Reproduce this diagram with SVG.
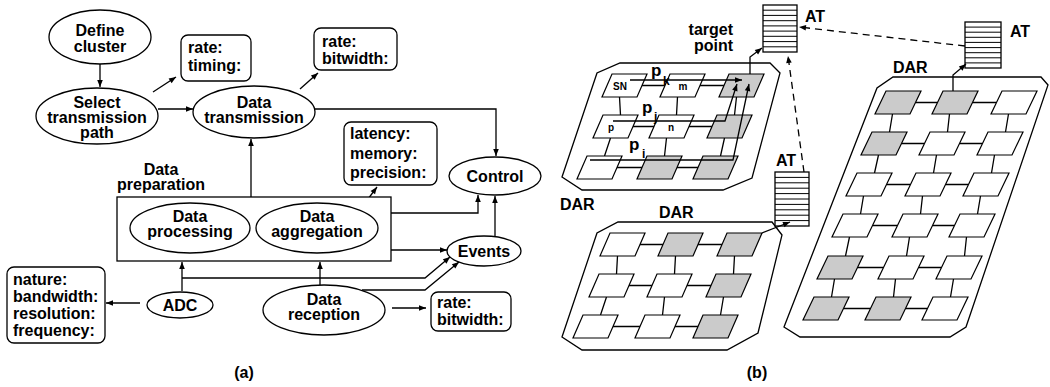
<svg xmlns="http://www.w3.org/2000/svg" width="1050" height="387" viewBox="0 0 1050 387">
<defs>
<style>
.t{font-family:"Liberation Sans",Arial,Helvetica,sans-serif;font-weight:bold;font-size:16px;fill:#000}
.m{text-anchor:middle}
.s{font-size:10px}
.ln{fill:none;stroke:#000;stroke-width:1.3}
.dl{fill:none;stroke:#000;stroke-width:1.3;stroke-dasharray:7,5}
.nd{fill:#fff;stroke:#000;stroke-width:1.3}
.cell{fill:#fff;stroke:#000;stroke-width:1.2}
.g{fill:#cbcbcb}
.st{stroke:#000;stroke-width:1}
</style>
<marker id="ah" viewBox="0 0 10 10" refX="10" refY="5" markerWidth="10" markerHeight="7" markerUnits="userSpaceOnUse" orient="auto"><path d="M0,1 L10,5 L0,9 z" fill="#000"/></marker>
</defs>
<rect width="1050" height="387" fill="#fff"/>

<!-- ===== (a) ===== -->
<g id="connectors-a" class="ln" marker-end="url(#ah)">
<path d="M100,64 L100,87"/>
<path d="M153,92 L176,77"/>
<path d="M158,109 L193,109"/>
<path d="M300,89 L318,73"/>
<path d="M315,109 L496,109 L496,156"/>
<path d="M251,197 L251,139"/>
<path d="M391,213 L478,213 L478,195"/>
<path d="M495,237 L495,196"/>
<path d="M391,250 L447,250"/>
<path d="M362,207 L377,187"/>
<path d="M182,291 L182,262"/>
<path d="M182,278 L425,278 L450,257"/>
<path d="M320,285 L320,262"/>
<path d="M362,290 L425,290 L459,262"/>
<path d="M392,308 L426,308"/>
<path d="M140,303 L106,303"/>
</g>

<g id="define-cluster"><ellipse class="nd" cx="100" cy="37" rx="51" ry="27"/><text class="t m" x="100" y="36">Define</text><text class="t m" x="100" y="52">cluster</text></g>
<g id="select-path"><ellipse class="nd" cx="97" cy="116" rx="61" ry="28"/><text class="t m" x="97" y="108">Select</text><text class="t m" x="97" y="123">transmission</text><text class="t m" x="97" y="138">path</text></g>
<g id="timing-box"><rect class="nd" x="181" y="35" width="70" height="46" rx="7"/><text class="t" x="188" y="53">rate:</text><text class="t" x="188" y="71">timing:</text></g>
<g id="data-transmission"><ellipse class="nd" cx="254" cy="112" rx="61" ry="26"/><text class="t m" x="254" y="108">Data</text><text class="t m" x="254" y="123">transmission</text></g>
<g id="bitwidth-top"><rect class="nd" x="314" y="28" width="83" height="42" rx="7"/><text class="t" x="322" y="47">rate:</text><text class="t" x="322" y="64">bitwidth:</text></g>
<g id="latency-box"><rect class="nd" x="344" y="122" width="93" height="63" rx="7"/><text class="t" x="350" y="139">latency:</text><text class="t" x="350" y="159">memory:</text><text class="t" x="350" y="178">precision:</text></g>
<g id="control"><ellipse class="nd" cx="495" cy="176" rx="46" ry="19"/><text class="t m" x="495" y="182">Control</text></g>
<g id="data-preparation"><rect class="nd" x="117" y="197" width="274" height="64"/><text class="t m" x="161" y="175">Data</text><text class="t m" x="161" y="190">preparation</text>
<g id="data-processing"><ellipse class="nd" cx="190" cy="228" rx="60" ry="25"/><text class="t m" x="190" y="222">Data</text><text class="t m" x="190" y="237">processing</text></g>
<g id="data-aggregation"><ellipse class="nd" cx="317" cy="228" rx="61" ry="25"/><text class="t m" x="317" y="222">Data</text><text class="t m" x="317" y="237">aggregation</text></g>
</g>
<g id="events"><ellipse class="nd" cx="484" cy="251" rx="37" ry="15"/><text class="t m" x="484" y="257">Events</text></g>
<g id="nature-box"><rect class="nd" x="7" y="267" width="98" height="76" rx="7"/><text class="t" x="13" y="285">nature:</text><text class="t" x="13" y="302">bandwidth:</text><text class="t" x="13" y="319">resolution:</text><text class="t" x="13" y="336">frequency:</text></g>
<g id="adc"><ellipse class="nd" cx="180" cy="305" rx="33" ry="13"/><text class="t m" x="180" y="311">ADC</text></g>
<g id="data-reception"><ellipse class="nd" cx="324" cy="310" rx="61" ry="25"/><text class="t m" x="324" y="305">Data</text><text class="t m" x="324" y="320">reception</text></g>
<g id="bitwidth-bottom"><rect class="nd" x="431" y="292" width="80" height="39" rx="7"/><text class="t" x="437" y="308">rate:</text><text class="t" x="437" y="325">bitwidth:</text></g>
<text class="t m" x="244" y="378">(a)</text>

<!-- ===== (b) ===== -->
<g id="dar-top">
<polygon class="nd" points="562,177 597,73 620,63 770,63 780,73 752,178 723,190 582,190"/>
<g class="ln">
<path d="M642,85.5 L665,85.5 M700,85.5 L724,85.5 M633,126.5 L654,126.5 M689,126.5 L712,126.5 M617,167.5 L642,167.5 M677,167.5 L698,167.5"/>
<path d="M619.5,97 L620.5,115 M610.5,138 L604.5,156 M677.5,97 L676.5,115 M666.5,138 L664.5,156 M736.5,97 L734.5,115 M724.5,138 L720.5,156"/>
</g>
<polygon class="cell" points="612,74 647,74 637,97 602,97"/>
<polygon class="cell" points="670,74 705,74 695,97 660,97"/>
<polygon class="cell g" points="729,74 764,74 754,97 719,97"/>
<polygon class="cell" points="603,115 638,115 628,138 593,138"/>
<polygon class="cell" points="659,115 694,115 684,138 649,138"/>
<polygon class="cell g" points="717,115 752,115 742,138 707,138"/>
<polygon class="cell" points="587,156 622,156 612,179 577,179"/>
<polygon class="cell g" points="647,156 682,156 672,179 637,179"/>
<polygon class="cell g" points="703,156 738,156 728,179 693,179"/>
<text class="t m s" x="620" y="90">SN</text>
<text class="t m s" x="683" y="90">m</text>
<text class="t m s" x="611" y="131">p</text>
<text class="t m s" x="671" y="131">n</text>
</g>
<g id="paths" class="ln" marker-end="url(#ah)">
<path d="M630,80 L742,80"/>
<path d="M613,121 L725,121 L737,84"/>
<path d="M590,160 L733,160 L749,84"/>
<path d="M750,74 L750,57 L762,48"/>
</g>
<g id="path-labels">
<text class="t" x="651" y="76" style="font-size:17px">p</text><text class="t" x="663" y="85" style="font-size:12px">k</text>
<text class="t" x="642" y="113" style="font-size:17px">p</text><text class="t" x="654" y="121" style="font-size:12px">j</text>
<text class="t" x="629" y="150" style="font-size:17px">p</text><text class="t" x="642" y="158" style="font-size:12px">i</text>
</g>
<text class="t" x="733" y="35" text-anchor="end">target</text>
<text class="t" x="733" y="51" text-anchor="end">point</text>
<text class="t" x="560" y="210">DAR</text>

<g id="at-top">
<rect class="nd" x="763" y="5" width="34" height="47"/>
<path class="st" d="M763,10.2H797M763,15.4H797M763,20.7H797M763,25.9H797M763,31.1H797M763,36.3H797M763,41.6H797M763,46.8H797"/>
<text class="t" x="805" y="22">AT</text>
</g>

<g id="dar-middle">
<polygon class="nd" points="562,337 597,233 618,222 772,222 782,235 758,333 727,350 582,350"/>
<g class="ln">
<path d="M640,244.5 L663,244.5 M698,244.5 L722,244.5 M629,285.5 L652,285.5 M687,285.5 L711,285.5 M613,326.5 L640,326.5 M675,326.5 L698,326.5"/>
<path d="M617.5,256 L616.5,274 M606.5,297 L600.5,315 M675.5,256 L674.5,274 M664.5,297 L662.5,315 M734.5,256 L733.5,274 M723.5,297 L720.5,315"/>
</g>
<polygon class="cell" points="610,233 645,233 635,256 600,256"/>
<polygon class="cell g" points="668,233 703,233 693,256 658,256"/>
<polygon class="cell g" points="727,233 762,233 752,256 717,256"/>
<polygon class="cell" points="599,274 634,274 624,297 589,297"/>
<polygon class="cell" points="657,274 692,274 682,297 647,297"/>
<polygon class="cell g" points="716,274 751,274 741,297 706,297"/>
<polygon class="cell" points="583,315 618,315 608,338 573,338"/>
<polygon class="cell" points="645,315 680,315 670,338 635,338"/>
<polygon class="cell g" points="703,315 738,315 728,338 693,338"/>
</g>
<text class="t" x="659" y="218">DAR</text>

<g id="at-middle">
<rect class="nd" x="775" y="172" width="34" height="54"/>
<path class="st" d="M775,177.4H809M775,182.8H809M775,188.2H809M775,193.6H809M775,199H809M775,204.4H809M775,209.8H809M775,215.2H809M775,220.6H809"/>
<text class="t" x="776" y="166">AT</text>
</g>

<g id="dar-right">
<polygon class="nd" points="784,327 877,88 893,77 1041,77 1048,85 966,327 950,337 800,337"/>
<g class="ln">
<path d="M915.5,102.5 L937.5,102.5 M972.5,102.5 L996.5,102.5 M901.5,143.5 L924.5,143.5 M959.5,143.5 L982.5,143.5 M886.5,184.5 L910.5,184.5 M945.5,184.5 L968.5,184.5 M872.5,225.5 L897.5,225.5 M932.5,225.5 L954.5,225.5 M857.5,267.5 L883.5,267.5 M918.5,267.5 L941.5,267.5 M843.5,308.5 L870.5,308.5 M905.5,308.5 L927.5,308.5"/>
<path d="M892.5,114 L889.5,132 M878.5,155 L874.5,173 M863.5,196 L860.5,214 M849.5,237 L845.5,256 M834.5,279 L831.5,297 M949.5,114 L947.5,132 M936.5,155 L933.5,173 M922.5,196 L920.5,214 M909.5,237 L906.5,256 M895.5,279 L893.5,297 M1008.5,114 L1005.5,132 M994.5,155 L991.5,173 M980.5,196 L977.5,214 M966.5,237 L964.5,256 M953.5,279 L950.5,297"/>
</g>
<polygon class="cell g" points="886,91 921,91 910,114 875,114"/>
<polygon class="cell g" points="943,91 978,91 967,114 932,114"/>
<polygon class="cell" points="1002,91 1037,91 1026,114 991,114"/>
<polygon class="cell g" points="872,132 907,132 896,155 861,155"/>
<polygon class="cell" points="930,132 965,132 954,155 919,155"/>
<polygon class="cell" points="988,132 1023,132 1012,155 977,155"/>
<polygon class="cell" points="857,173 892,173 881,196 846,196"/>
<polygon class="cell" points="916,173 951,173 940,196 905,196"/>
<polygon class="cell" points="974,173 1009,173 998,196 963,196"/>
<polygon class="cell" points="843,214 878,214 867,237 832,237"/>
<polygon class="cell" points="903,214 938,214 927,237 892,237"/>
<polygon class="cell" points="960,214 995,214 984,237 949,237"/>
<polygon class="cell g" points="828,256 863,256 852,279 817,279"/>
<polygon class="cell" points="889,256 924,256 913,279 878,279"/>
<polygon class="cell" points="947,256 982,256 971,279 936,279"/>
<polygon class="cell g" points="814,297 849,297 838,320 803,320"/>
<polygon class="cell g" points="876,297 911,297 900,320 865,320"/>
<polygon class="cell" points="933,297 968,297 957,320 922,320"/>
</g>
<text class="t" x="893" y="73">DAR</text>

<g id="at-right">
<rect class="nd" x="965" y="22" width="36" height="46"/>
<path class="st" d="M965,27.1H1001M965,32.2H1001M965,37.3H1001M965,42.4H1001M965,47.6H1001M965,52.7H1001M965,57.8H1001M965,62.9H1001"/>
<text class="t" x="1010" y="37">AT</text>
</g>

<g id="connectors-b" marker-end="url(#ah)">
<path class="ln" d="M762,233 L790,222"/>
<path class="ln" d="M953,91 L953,75 L966,64"/>
<path class="dl" d="M804,172 L788,56"/>
<path class="dl" d="M965,46 L799,27"/>
</g>
<text class="t m" x="757" y="378">(b)</text>
</svg>
